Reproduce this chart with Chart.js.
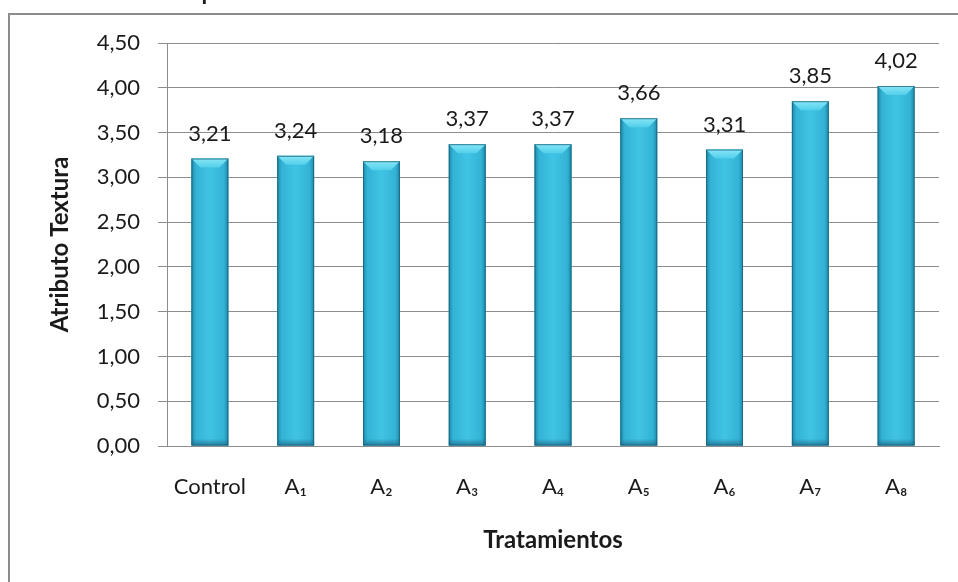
<!DOCTYPE html>
<html>
<head>
<meta charset="utf-8">
<script src="https://cdn.jsdelivr.net/npm/chart.js@4.4.1/dist/chart.umd.min.js"></script>
<style>
  html, body { margin: 0; padding: 0; background: #ffffff; }
  #wrap { position: relative; width: 958px; height: 582px; overflow: hidden; }
  canvas { display: block; }
</style>
</head>
<body>
<div id="wrap"><canvas id="c" width="958" height="582"></canvas></div>
<script>
// Sensory panel scores for texture, per treatment
const categories = ['Control', 'A\u2081', 'A\u2082', 'A\u2083', 'A\u2084', 'A\u2085', 'A\u2086', 'A\u2087', 'A\u2088'];
const textureScores = [3.21, 3.24, 3.18, 3.37, 3.37, 3.66, 3.31, 3.85, 4.02];
const yTicks = [0, 0.5, 1, 1.5, 2, 2.5, 3, 3.5, 4, 4.5];
const chartTitle = 'Promedio del panel sensorial de Textura';
const xTitle = 'Tratamientos';
const yTitle = 'Atributo Textura';

const FONT = 'Lato, "Open Sans", "DejaVu Sans", sans-serif';
const fmt = v => v.toFixed(2).replace('.', ',');

// Outer frame and the chart title running off the top edge
const framePlugin = {
  id: 'frame',
  beforeDraw(chart) {
    const ctx = chart.ctx;
    ctx.save();
    ctx.fillStyle = '#ffffff';
    ctx.fillRect(0, 0, chart.width, chart.height);
    ctx.strokeStyle = '#8c8c8c';
    ctx.lineWidth = 2;
    ctx.strokeRect(9, 14, chart.width + 20, chart.height + 20);
    ctx.fillStyle = '#1a1a1a';
    ctx.font = 'bold 23px ' + FONT;
    ctx.textBaseline = 'alphabetic';
    ctx.textAlign = 'left';
    ctx.fillText(chartTitle, 60, 0);
    ctx.restore();
  }
};

// Cylinder-like shading over each bar plus value labels
const barStylePlugin = {
  id: 'barStyle',
  afterDatasetsDraw(chart) {
    const ctx = chart.ctx;
    const meta = chart.getDatasetMeta(0);
    meta.data.forEach((bar, i) => {
      const w = bar.width;
      const x0 = bar.x - w / 2, x1 = bar.x + w / 2;
      const top = bar.y, base = bar.base;
      ctx.save();
      // body gradient
      const g = ctx.createLinearGradient(x0, 0, x1, 0);
      g.addColorStop(0, '#1f88a8');
      g.addColorStop(0.12, '#33b3d6');
      g.addColorStop(0.5, '#40c4e4');
      g.addColorStop(0.88, '#33b3d6');
      g.addColorStop(1, '#1f88a8');
      ctx.fillStyle = g;
      ctx.fillRect(x0, top, w, base - top);
      // darker foot
      const gb = ctx.createLinearGradient(0, base - 7, 0, base);
      gb.addColorStop(0, 'rgba(35,115,145,0)');
      gb.addColorStop(1, 'rgba(35,115,145,0.85)');
      ctx.fillStyle = gb;
      ctx.fillRect(x0, base - 7, w, 7);
      // top bevel
      const bev = 9;
      const gt = ctx.createLinearGradient(0, top, 0, top + bev);
      gt.addColorStop(0, '#86e6f6');
      gt.addColorStop(1, '#52cfea');
      ctx.fillStyle = gt;
      ctx.beginPath();
      ctx.moveTo(x0, top);
      ctx.lineTo(x1, top);
      ctx.lineTo(x1 - bev, top + bev);
      ctx.lineTo(x0 + bev, top + bev);
      ctx.closePath();
      ctx.fill();
      // thin edge outline
      ctx.strokeStyle = 'rgba(25,95,120,0.75)';
      ctx.lineWidth = 1;
      ctx.strokeRect(x0 + 0.5, top + 0.5, w - 1, base - top - 1);
      // value label
      ctx.fillStyle = '#1a1a1a';
      ctx.font = '22px ' + FONT;
      ctx.textAlign = 'center';
      ctx.textBaseline = 'alphabetic';
      ctx.fillText(fmt(textureScores[i]), bar.x, top - 18);
      ctx.restore();
    });
  }
};

new Chart(document.getElementById('c'), {
  type: 'bar',
  data: {
    labels: categories,
    datasets: [{
      data: textureScores,
      backgroundColor: '#35b4d6',
      borderWidth: 0,
      barPercentage: 0.43,
      categoryPercentage: 1.0
    }]
  },
  options: {
    responsive: false,
    animation: false,
    devicePixelRatio: 1,
    layout: { padding: { left: 45, right: 19, top: 43, bottom: 0 } },
    plugins: {
      legend: { display: false },
      tooltip: { enabled: false },
      title: { display: false }
    },
    scales: {
      x: {
        grid: { display: false, drawTicks: false },
        border: { display: true, color: '#8c8c8c', width: 1 },
        ticks: { color: '#1a1a1a', font: { family: FONT, size: 22 }, padding: 28, maxRotation: 0 },
        title: { display: true, text: xTitle, color: '#1a1a1a', font: { family: FONT, size: 24, weight: 'bold' }, padding: { top: 0, bottom: 27 } },
        afterFit(scale) { scale.height = 136; }
      },
      y: {
        min: 0,
        max: 4.5,
        afterBuildTicks(scale) { scale.ticks = yTicks.map(v => ({ value: v })); },
        grid: { color: '#8c8c8c', lineWidth: 1, tickLength: 9, drawTicks: true },
        border: { display: true, color: '#8c8c8c', width: 1 },
        ticks: { color: '#1a1a1a', font: { family: FONT, size: 22 }, padding: 18, callback: v => fmt(v) },
        title: { display: true, text: yTitle, color: '#1a1a1a', font: { family: FONT, size: 24, weight: 'bold' }, padding: { top: 1, bottom: 0 } },
        afterFit(scale) { scale.width = 122; }
      }
    }
  },
  plugins: [framePlugin, barStylePlugin]
});
</script>
</body>
</html>
